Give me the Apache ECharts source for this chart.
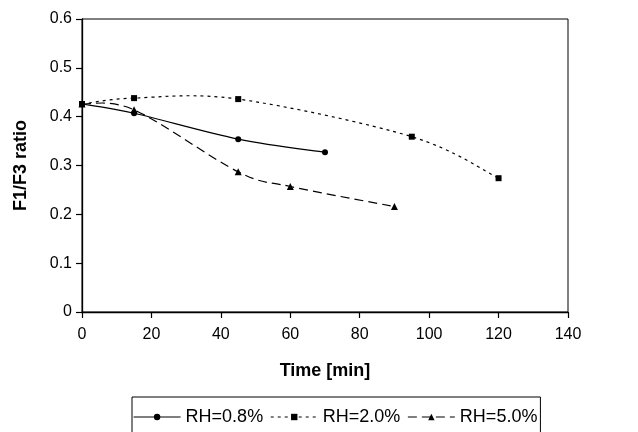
<!DOCTYPE html>
<html>
<head>
<meta charset="utf-8">
<script src="https://cdn.jsdelivr.net/npm/echarts@6/dist/echarts.min.js"></script>
<style>html,body{margin:0;padding:0;background:#fff;}#c{width:638px;height:432px;}</style>
</head>
<body>
<div id="c"></div>
<script>
var seriesNames = ['RH=0.8%', 'RH=2.0%', 'RH=5.0%'];
var timeRH08 = [0, 15, 45, 70];
var ratioRH08 = [0.426, 0.407, 0.354, 0.327];
var timeRH20 = [0, 15, 45, 95, 120];
var ratioRH20 = [0.426, 0.438, 0.436, 0.359, 0.274];
var timeRH50 = [0, 15, 45, 60, 90];
var ratioRH50 = [0.426, 0.414, 0.287, 0.257, 0.216];
var xTicks = [0, 20, 40, 60, 80, 100, 120, 140];
var yTicks = [0, 0.1, 0.2, 0.3, 0.4, 0.5, 0.6];

function pairs(xs, ys) { return xs.map(function (x, i) { return [x, ys[i]]; }); }

var FONT = '"Liberation Sans", Arial, sans-serif';
var dashes = ['solid', [3, 4], [9, 5]];
var symbols = ['circle', 'rect', 'triangle'];
var symbolSizes = [6, 6, 7];
var allData = [pairs(timeRH08, ratioRH08), pairs(timeRH20, ratioRH20), pairs(timeRH50, ratioRH50)];

var chart = echarts.init(document.getElementById('c'), null, { renderer: 'canvas' });

// Smooth curve (Catmull-Rom style Bezier, as in spreadsheet "smoothed line") drawn via axis scales
function curveSeries(k) {
  var data = allData[k];
  var dash = dashes[k];
  return {
    name: seriesNames[k] + '-curve', type: 'custom', data: data, silent: true, z: 2,
    encode: { x: 0, y: 1 },
    renderItem: function (params, api) {
      if (params.dataIndex !== 0) return null;
      var p = data.map(function (d) { return api.coord(d); });
      var path = 'M' + p[0][0] + ' ' + p[0][1];
      for (var i = 0; i < p.length - 1; i++) {
        var a = p[i - 1] || p[i], b = p[i], c = p[i + 1], d = p[i + 2] || p[i + 1];
        var c1x = b[0] + (c[0] - a[0]) / 6, c1y = b[1] + (c[1] - a[1]) / 6;
        var c2x = c[0] - (d[0] - b[0]) / 6, c2y = c[1] - (d[1] - b[1]) / 6;
        path += ' C' + c1x + ' ' + c1y + ' ' + c2x + ' ' + c2y + ' ' + c[0] + ' ' + c[1];
      }
      return {
        type: 'path', shape: { pathData: path },
        style: { stroke: '#000', fill: null, lineWidth: 1.2, lineDash: dash === 'solid' ? null : dash }
      };
    }
  };
}

function markerSeries(k) {
  return {
    name: seriesNames[k], type: 'line', data: allData[k], z: 3,
    symbol: symbols[k], symbolSize: symbolSizes[k], showSymbol: true,
    itemStyle: { color: '#000' },
    lineStyle: { color: '#000', width: 1.2, type: dashes[k], opacity: 0 },
    emphasis: { disabled: true }
  };
}

chart.setOption({
  animation: false,
  backgroundColor: '#fff',
  textStyle: { fontFamily: FONT },
  grid: { left: 82, right: 70, top: 19, bottom: 120, show: true, borderColor: '#000', borderWidth: 1, backgroundColor: 'transparent' },
  xAxis: {
    type: 'value', min: xTicks[0], max: xTicks[xTicks.length - 1], interval: 20,
    name: 'Time [min]', nameLocation: 'middle', nameGap: 50,
    nameTextStyle: { fontFamily: FONT, fontSize: 18, fontWeight: 'bold', color: '#000' },
    axisLine: { show: true, onZero: false, lineStyle: { color: '#000', width: 1.3 } },
    axisTick: { show: true, inside: false, length: 6, lineStyle: { color: '#000', width: 1.2 } },
    axisLabel: { color: '#000', fontSize: 16, fontFamily: FONT, margin: 15 },
    splitLine: { show: false }
  },
  yAxis: {
    type: 'value', min: yTicks[0], max: yTicks[yTicks.length - 1], interval: 0.1,
    name: 'F1/F3 ratio', nameLocation: 'middle', nameGap: 52, nameRotate: 90,
    nameTextStyle: { fontFamily: FONT, fontSize: 18, fontWeight: 'bold', color: '#000' },
    axisLine: { show: true, onZero: false, lineStyle: { color: '#000', width: 1.3 } },
    axisTick: { show: true, inside: false, length: 6, lineStyle: { color: '#000', width: 1.2 } },
    axisLabel: { color: '#000', fontSize: 16, fontFamily: FONT, margin: 10,
      formatter: function (v) { return v === 0 ? '0' : v.toFixed(1); } },
    splitLine: { show: false }
  },
  legend: {
    data: seriesNames.map(function (n, k) {
      return { name: n, lineStyle: { color: '#000', width: 1.2, type: dashes[k], opacity: 1 } };
    }),
    left: 132, top: 397,
    orient: 'horizontal',
    itemWidth: 47, itemHeight: 8, itemGap: 7,
    padding: [11, 3, 14, 1],
    borderColor: '#000', borderWidth: 1,
    textStyle: { color: '#000', fontSize: 18, fontFamily: FONT },
    selectedMode: false
  },
  series: [curveSeries(0), curveSeries(1), curveSeries(2), markerSeries(0), markerSeries(1), markerSeries(2)]
});
</script>
</body>
</html>
